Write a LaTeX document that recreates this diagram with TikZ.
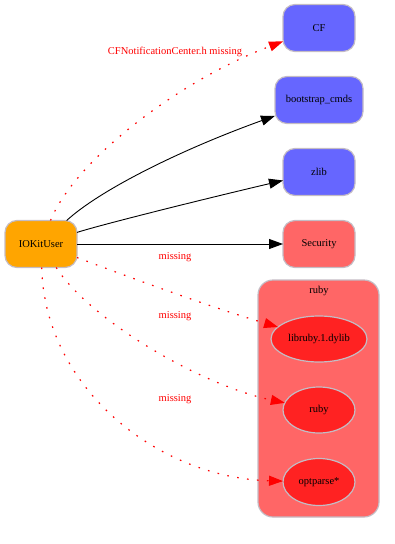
\documentclass[tikz,border=0pt]{standalone}
\usepackage{fontspec}
\setmainfont{Liberation Serif}
\usetikzlibrary{arrows.meta,shapes.geometric}
\definecolor{gvOrange}{HTML}{FFA500}
\definecolor{gvBlue}{HTML}{6666FF}
\definecolor{gvRose}{HTML}{FF6666}
\definecolor{gvRed}{HTML}{FF2222}
\definecolor{gvEdge}{HTML}{FF0000}
\definecolor{gvRim}{HTML}{C4BCC4}

\begin{document}
\begin{tikzpicture}[
  x=1pt,y=-1pt,
  font=\rmfamily\fontsize{10.5}{12}\selectfont,
  every node/.style={
    text=black,align=center,outer sep=0pt
  },
  pkg/.style={
    rectangle,
    rounded corners=12pt,
    line width=1.2pt,
    draw=gvRim,
    minimum width=72pt,
    minimum height=47pt,
    inner sep=0pt
  },
  lib/.style={
    ellipse,
    line width=1.2pt,
    draw=gvRim,
    fill=gvRed,
    minimum width=72pt,
    minimum height=46pt,
    inner sep=0pt
  },
  dep/.style={
    -{Triangle[length=14pt,width=10pt]},
    draw=black,
    line width=0.9pt
  },
  miss/.style={
    -{Triangle[length=14pt,width=10pt,fill=gvEdge]},
    draw=gvEdge,
    line width=1.2pt,
    dash pattern=on 1.6pt off 8.4pt
  },
  note/.style={
    text=gvEdge
  }
]
\path[use as bounding box] (0,0) rectangle (395,544);

% Cluster for ruby
\node[
  rectangle,
  rounded corners=15pt,
  line width=1.2pt,
  draw=gvRim,
  fill=gvRose,
  minimum width=121pt,
  minimum height=237pt
] (rubygrp) at (318.5,398.5) {};
\node (rubylbl) at (319,291) {ruby};

% Source package
\node[pkg,fill=gvOrange] (iokit) at (41,244) {IOKitUser};

% Dependencies
\node[pkg,fill=gvBlue] (cf) at (319,28) {CF};
\node[pkg,fill=gvBlue,minimum width=88pt] (bootstrap) at (319,100) {bootstrap\_cmds};
\node[pkg,fill=gvBlue] (zlib) at (319,172) {zlib};
\node[pkg,fill=gvRose] (security) at (319,244) {Security};

\node[lib,minimum width=96pt] (libruby) at (319,339) {libruby.1.dylib};
\node[lib] (ruby) at (319,410) {ruby};
\node[lib,minimum height=47pt] (optparse) at (319,482) {optparse*};

% Found dependencies
\draw[dep] (iokit) .. controls (100,190) and (180,150) .. (bootstrap);
\draw[dep] (iokit) .. controls (100,225) and (200,200) .. (zlib);
\draw[dep] (iokit) -- (security);

% Missing dependencies
\draw[miss] (iokit) .. controls (75,160) and (180,80) .. (cf);
\draw[miss] (iokit) .. controls (150,285) and (220,310) .. (libruby);
\draw[miss] (iokit) .. controls (90,320) and (200,385) .. (ruby);
\draw[miss] (iokit) .. controls (45,390) and (160,478) .. (optparse);

% Edge labels
\node[note] (cfnote) at (175,52) {CFNotificationCenter.h missing};
\node[note] (libnote) at (175,257) {missing};
\node[note] (rubynote) at (175,316) {missing};
\node[note] (optnote) at (175,399) {missing};

\end{tikzpicture}
\end{document}
